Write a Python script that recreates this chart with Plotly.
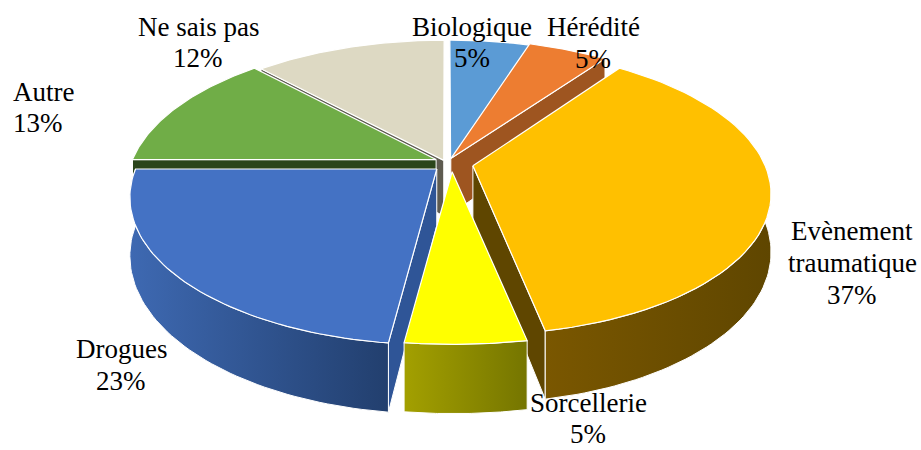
import numpy as np
import plotly.graph_objects as go

categories = ["Biologique", "Hérédité", "Evènement traumatique", "Sorcellerie", "Drogues", "Autre", "Ne sais pas"]
values = [5, 5, 37, 5, 23, 13, 12]

# projection of the tilted 3-D pie onto the page
CX, CY, RX, RY, K, DEPTH = 446, 163, 305, 143.7, 0.188, 56
explode = [0.02, 0.035, 0.09, 0.06, 0.04, 0.03, 0.02]
radius = [1, 1, 0.955, 0.96, 0.98, 1, 1]
nudge_x = [0.012, 0.0, 0.0, 0.018, 0.0, -0.005, 0.0]
nudge_y = [0.0, 0.0, 0.0, 0.0, -0.015, 0.012, 0.0]
stretch_x = [1, 1, 1, 1.09, 1, 1, 1]
top_col = ["#5B9BD5", "#ED7D31", "#FFC000", "#FFFF00", "#4472C4", "#70AD47", "#DDD9C3"]
radial_col = ["#3F78AE", "#9E5520", "#5F4600", "#5F4600", "#2F5597", "#2A451B", "#5E5B50"]
arc_col = [None, None, ("#7A5700", "#5F4600"), ("#A3A000", "#757500"), ("#3E69B2", "#223F6E"), None, None]

total = sum(values)
edges = np.cumsum([0] + values) / total * 2 * np.pi
fig = go.Figure()


def project(X, Y, down=0.0):
    s = 1 / (1 + K * np.asarray(Y))
    return CX + RX * np.asarray(X) * s, CY - RY * np.asarray(Y) * s + down * s


def add_poly(px, py, color=None, grad=None, lw=1.2):
    px = list(px) + [px[0]]
    py = list(py) + [py[0]]
    kw = dict(fillcolor=color) if grad is None else dict(
        fillgradient=dict(type="horizontal", colorscale=[[0, grad[0]], [1, grad[1]]]))
    fig.add_trace(go.Scatter(x=px, y=py, mode="lines", fill="toself",
                             line=dict(color="white", width=lw), hoverinfo="skip", showlegend=False, **kw))


def draw(i):
    a0, a1 = edges[i], edges[i + 1]
    mid = (a0 + a1) / 2
    r = radius[i]
    rx = r * stretch_x[i]
    ox = explode[i] * np.sin(mid) + nudge_x[i]
    oy = explode[i] * np.cos(mid) + nudge_y[i]
    t = np.linspace(a0, a1, 60)
    X = ox + rx * np.sin(t)
    Y = oy + r * np.cos(t)

    # radial walls that face the viewer
    wall_angles = []
    if a1 < np.pi:
        wall_angles.append(a1)
    if a0 > np.pi:
        wall_angles.append(a0)
    for a in wall_angles:
        ex, ey = ox + rx * np.sin(a), oy + r * np.cos(a)
        x1, y1 = project([ox, ex], [oy, ey])
        x2, y2 = project([ex, ox], [ey, oy], DEPTH)
        add_poly(np.r_[x1, x2], np.r_[y1, y2], color=radial_col[i], lw=1)

    # outer wall on the front half
    if arc_col[i]:
        ta = np.linspace(max(a0, np.pi / 2), min(a1, 3 * np.pi / 2), 60)
        ax, ay = ox + rx * np.sin(ta), oy + r * np.cos(ta)
        x1, y1 = project(ax, ay)
        x2, y2 = project(ax[::-1], ay[::-1], DEPTH)
        add_poly(np.r_[x1, x2], np.r_[y1, y2], grad=arc_col[i], lw=1)

    # top face
    x, y = project(np.r_[ox, X], np.r_[oy, Y])
    add_poly(x, y, color=top_col[i])


for i in [6, 0, 1, 5, 4, 2, 3]:
    draw(i)

labels = [
    ("Biologique", 472, 27), ("5%", 472, 58),
    ("Hérédité", 593, 27), ("5%", 593, 59),
    ("Ne sais pas", 198, 27), ("12%", 198, 58),
    ("Autre", 43, 92), ("13%", 38, 123),
    ("Drogues", 121, 349), ("23%", 121, 381),
    ("Evènement", 852, 231), ("traumatique", 852, 263), ("37%", 852, 295),
    ("Sorcellerie", 588, 403), ("5%", 588, 434),
]
for txt, lx, ly in labels:
    fig.add_annotation(x=lx, y=ly, text=txt, showarrow=False, xanchor="center", yanchor="middle",
                       font=dict(family="Liberation Serif", size=27, color="#000000"))

fig.update_layout(
    width=921, height=450, margin=dict(l=0, r=0, t=0, b=0),
    paper_bgcolor="white", plot_bgcolor="white", showlegend=False,
    xaxis=dict(range=[0, 921], visible=False, fixedrange=True),
    yaxis=dict(range=[450, 0], visible=False, fixedrange=True),
)
fig.write_html("out.html", config=dict(displayModeBar=False),
               post_script="document.body.style.margin='0';")
